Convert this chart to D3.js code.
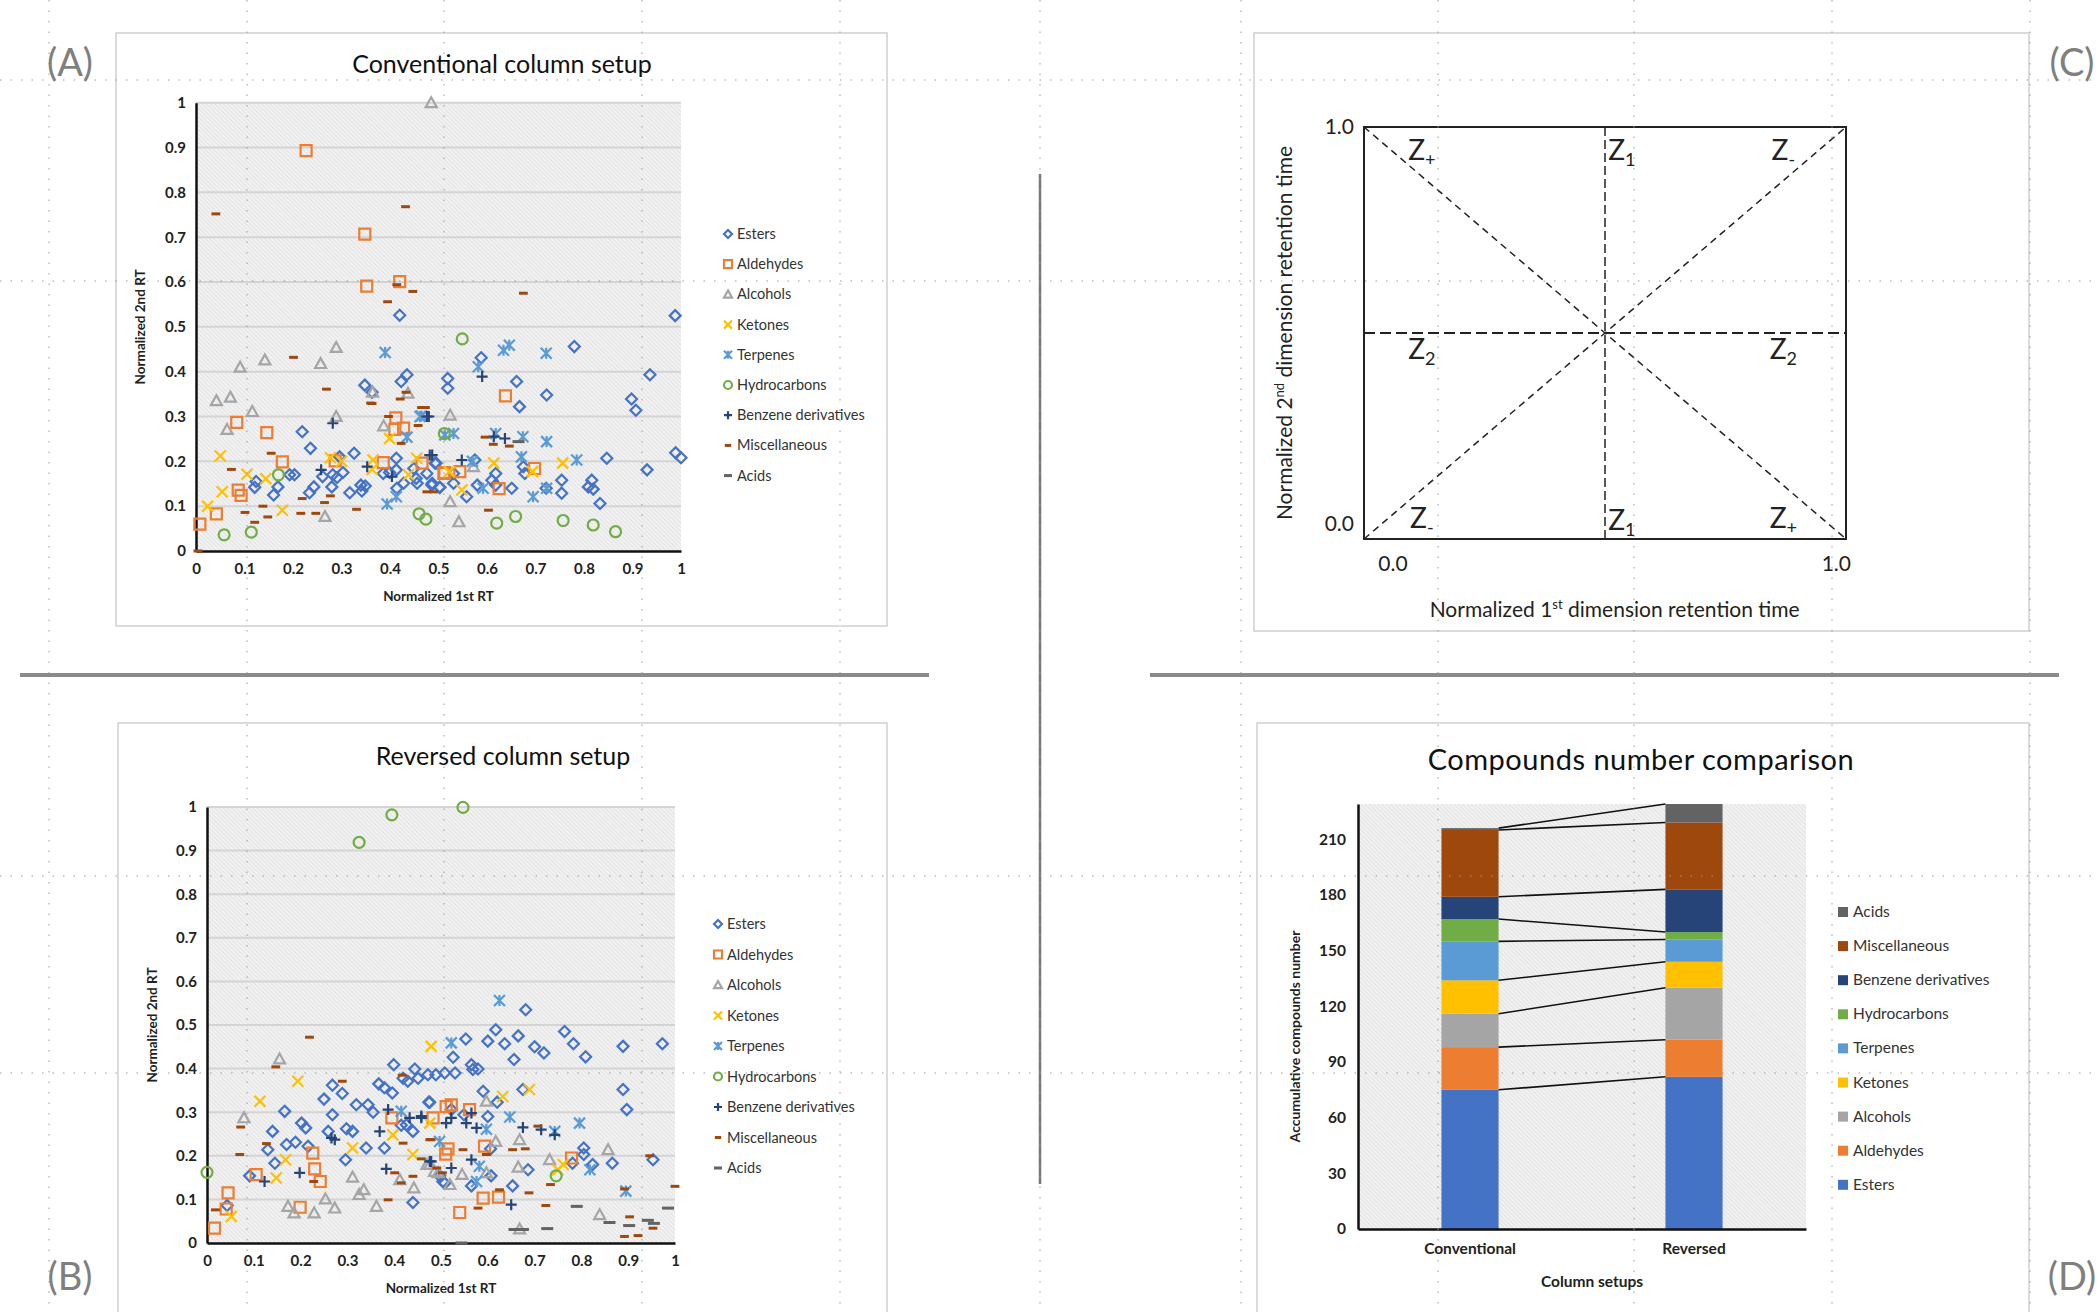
<!DOCTYPE html>
<html>
<head>
<meta charset="utf-8">
<script src="https://cdn.jsdelivr.net/npm/d3@7"></script>
<style>
  body { margin: 0; background: #fff; }
  text { font-family: Lato, "Open Sans", sans-serif; }
</style>
</head>
<body>
<svg id="fig" width="2097" height="1312"></svg>
<script>
// ---- shared categories ----
const classes = ['Esters', 'Aldehydes', 'Alcohols', 'Ketones', 'Terpenes', 'Hydrocarbons', 'Benzene derivatives', 'Miscellaneous', 'Acids'];
const colors = ['#4472C4', '#ED7D31', '#A5A5A5', '#FFC000', '#5B9BD5', '#70AD47', '#264478', '#9E480E', '#636363'];
const shapes = ['diamond', 'square', 'triangle', 'x', 'star', 'circle', 'plus', 'dash', 'longdash'];
const rtTicks = [0, 0.1, 0.2, 0.3, 0.4, 0.5, 0.6, 0.7, 0.8, 0.9, 1];

// ---- (A) conventional column setup: [1st RT, 2nd RT] ----
const convEsters = [[0.42,0.526],[0.348,0.37],[0.363,0.354],[0.423,0.378],[0.435,0.393],[0.219,0.266],[0.236,0.229],[0.124,0.155],[0.121,0.142],[0.169,0.143],[0.16,0.125],[0.193,0.17],[0.203,0.17],[0.243,0.143],[0.234,0.13],[0.261,0.166],[0.28,0.143],[0.282,0.17],[0.296,0.21],[0.303,0.175],[0.291,0.164],[0.326,0.218],[0.317,0.13],[0.34,0.147],[0.349,0.145],[0.342,0.134],[0.386,0.173],[0.399,0.175],[0.413,0.207],[0.413,0.181],[0.414,0.14],[0.428,0.151],[0.449,0.184],[0.454,0.162],[0.456,0.151],[0.476,0.173],[0.495,0.196],[0.487,0.151],[0.502,0.142],[0.519,0.385],[0.519,0.363],[0.588,0.431],[0.661,0.378],[0.667,0.322],[0.723,0.348],[0.78,0.456],[0.936,0.393],[0.898,0.339],[0.907,0.314],[0.988,0.525],[0.989,0.219],[1.0,0.208],[0.93,0.181],[0.847,0.207],[0.833,0.106],[0.816,0.158],[0.809,0.143],[0.819,0.138],[0.754,0.158],[0.754,0.129],[0.722,0.14],[0.678,0.173],[0.675,0.188],[0.651,0.14],[0.618,0.173],[0.618,0.147],[0.61,0.158],[0.58,0.147],[0.558,0.121],[0.531,0.173],[0.575,0.203],[0.493,0.196],[0.486,0.147],[0.503,0.142],[0.531,0.151]];
const convAldehydes = [[0.227,0.893],[0.348,0.707],[0.352,0.591],[0.42,0.601],[0.084,0.287],[0.146,0.264],[0.178,0.199],[0.087,0.136],[0.093,0.124],[0.042,0.083],[0.008,0.06],[0.287,0.201],[0.386,0.197],[0.412,0.297],[0.41,0.271],[0.428,0.274],[0.466,0.196],[0.513,0.175],[0.638,0.346],[0.511,0.173],[0.544,0.177],[0.625,0.139],[0.698,0.184]];
const convAlcohols = [[0.485,1.0],[0.289,0.454],[0.142,0.426],[0.091,0.41],[0.257,0.418],[0.042,0.335],[0.071,0.343],[0.116,0.311],[0.064,0.271],[0.289,0.3],[0.364,0.354],[0.437,0.352],[0.387,0.279],[0.266,0.077],[0.524,0.303],[0.524,0.11],[0.542,0.065],[0.572,0.188]];
const convKetones = [[0.05,0.212],[0.024,0.1],[0.054,0.132],[0.105,0.171],[0.144,0.161],[0.178,0.091],[0.277,0.208],[0.365,0.203],[0.363,0.182],[0.399,0.251],[0.438,0.17],[0.455,0.207],[0.522,0.177],[0.548,0.136],[0.614,0.196],[0.694,0.177],[0.756,0.196],[0.3,0.2]];
const convTerpenes = [[0.39,0.443],[0.394,0.105],[0.413,0.121],[0.435,0.254],[0.462,0.3],[0.582,0.411],[0.634,0.448],[0.646,0.459],[0.722,0.441],[0.465,0.301],[0.531,0.262],[0.513,0.259],[0.618,0.262],[0.674,0.255],[0.723,0.244],[0.671,0.21],[0.785,0.203],[0.592,0.14],[0.723,0.14],[0.695,0.121],[0.57,0.2]];
const convHydrocarbons = [[0.058,0.036],[0.114,0.042],[0.17,0.17],[0.46,0.083],[0.474,0.071],[0.512,0.262],[0.549,0.473],[0.62,0.062],[0.659,0.077],[0.757,0.068],[0.819,0.058],[0.865,0.043]];
const convBenzene = [[0.282,0.285],[0.258,0.181],[0.353,0.188],[0.404,0.166],[0.48,0.3],[0.487,0.214],[0.59,0.389],[0.476,0.3],[0.482,0.214],[0.548,0.203],[0.614,0.255],[0.637,0.251]];
const convMisc = [[0.041,0.752],[0.432,0.768],[0.414,0.594],[0.447,0.579],[0.395,0.556],[0.201,0.432],[0.269,0.361],[0.363,0.329],[0.421,0.339],[0.433,0.354],[0.473,0.32],[0.458,0.28],[0.397,0.3],[0.423,0.24],[0.155,0.218],[0.073,0.182],[0.219,0.117],[0.277,0.123],[0.265,0.108],[0.138,0.1],[0.101,0.086],[0.148,0.076],[0.121,0.064],[0.216,0.084],[0.247,0.084],[0.331,0.093],[0.476,0.132],[0.004,0.0],[0.675,0.575],[0.465,0.32],[0.596,0.254],[0.613,0.238],[0.646,0.234],[0.603,0.091],[0.49,0.132],[0.36,0.33]];
const convAcids = [[0.665,0.244]];

// ---- (B) reversed column setup ----
const revEsters = [[0.043,0.086],[0.091,0.154],[0.166,0.302],[0.14,0.256],[0.13,0.214],[0.145,0.183],[0.17,0.226],[0.189,0.231],[0.202,0.275],[0.211,0.264],[0.216,0.222],[0.268,0.362],[0.289,0.343],[0.268,0.294],[0.259,0.256],[0.298,0.262],[0.311,0.256],[0.296,0.191],[0.319,0.317],[0.344,0.317],[0.34,0.218],[0.367,0.365],[0.379,0.356],[0.396,0.344],[0.399,0.409],[0.419,0.378],[0.429,0.371],[0.444,0.399],[0.451,0.378],[0.426,0.271],[0.44,0.256],[0.379,0.218],[0.44,0.093],[0.474,0.323],[0.489,0.386],[0.508,0.39],[0.504,0.141],[0.472,0.386],[0.526,0.426],[0.553,0.468],[0.565,0.409],[0.579,0.399],[0.568,0.398],[0.59,0.348],[0.6,0.463],[0.617,0.489],[0.636,0.457],[0.656,0.421],[0.665,0.475],[0.681,0.535],[0.7,0.45],[0.72,0.436],[0.764,0.485],[0.783,0.457],[0.809,0.427],[0.889,0.451],[0.973,0.457],[0.889,0.352],[0.897,0.306],[0.953,0.191],[0.866,0.183],[0.824,0.18],[0.805,0.218],[0.805,0.203],[0.781,0.183],[0.686,0.168],[0.675,0.352],[0.62,0.323],[0.6,0.29],[0.549,0.294],[0.522,0.306],[0.606,0.216],[0.607,0.154],[0.653,0.131],[0.565,0.131],[0.508,0.137],[0.497,0.154],[0.476,0.323],[0.53,0.39],[0.415,0.27],[0.355,0.3],[0.25,0.33]];
const revAldehydes = [[0.016,0.034],[0.045,0.115],[0.041,0.078],[0.105,0.157],[0.199,0.082],[0.226,0.206],[0.23,0.17],[0.242,0.141],[0.395,0.287],[0.483,0.287],[0.511,0.313],[0.51,0.204],[0.522,0.317],[0.561,0.306],[0.515,0.216],[0.593,0.222],[0.54,0.07],[0.59,0.103],[0.623,0.105],[0.779,0.195]];
const revAlcohols = [[0.079,0.287],[0.155,0.422],[0.311,0.151],[0.335,0.122],[0.325,0.111],[0.173,0.084],[0.186,0.069],[0.229,0.069],[0.253,0.101],[0.273,0.08],[0.362,0.084],[0.412,0.145],[0.442,0.126],[0.47,0.18],[0.486,0.164],[0.476,0.18],[0.494,0.161],[0.519,0.134],[0.545,0.157],[0.597,0.325],[0.617,0.233],[0.597,0.161],[0.668,0.237],[0.665,0.174],[0.732,0.191],[0.857,0.214],[0.839,0.065],[0.668,0.032]];
const revKetones = [[0.052,0.061],[0.113,0.325],[0.194,0.371],[0.168,0.191],[0.148,0.149],[0.311,0.218],[0.397,0.248],[0.44,0.203],[0.479,0.451],[0.476,0.275],[0.632,0.336],[0.689,0.352],[0.761,0.18],[0.75,0.168]];
const revTerpenes = [[0.415,0.302],[0.497,0.233],[0.625,0.556],[0.522,0.459],[0.597,0.261],[0.647,0.289],[0.582,0.176],[0.576,0.141],[0.743,0.256],[0.796,0.275],[0.818,0.168],[0.895,0.119]];
const revHydrocarbons = [[0.395,0.982],[0.325,0.919],[0.0,0.162],[0.547,0.999],[0.746,0.154]];
const revBenzene = [[0.123,0.141],[0.198,0.161],[0.383,0.17],[0.369,0.256],[0.387,0.306],[0.266,0.241],[0.273,0.237],[0.433,0.287],[0.458,0.287],[0.479,0.187],[0.511,0.275],[0.458,0.291],[0.522,0.287],[0.476,0.187],[0.522,0.172],[0.554,0.275],[0.576,0.264],[0.565,0.298],[0.565,0.191],[0.65,0.088],[0.675,0.265],[0.714,0.26],[0.743,0.248]];
const revMisc = [[0.018,0.076],[0.072,0.266],[0.07,0.203],[0.127,0.228],[0.147,0.404],[0.219,0.472],[0.289,0.371],[0.228,0.141],[0.387,0.099],[0.401,0.161],[0.419,0.229],[0.415,0.138],[0.44,0.153],[0.476,0.237],[0.491,0.172],[0.503,0.161],[0.417,0.385],[0.479,0.237],[0.458,0.193],[0.547,0.214],[0.597,0.203],[0.625,0.122],[0.579,0.08],[0.653,0.214],[0.68,0.216],[0.707,0.268],[0.688,0.115],[0.724,0.086],[0.734,0.134],[0.946,0.2],[1.0,0.13],[0.892,0.124],[0.903,0.06],[0.892,0.015],[0.921,0.017],[0.953,0.034]];
const revAcids = [[0.544,0.0],[0.657,0.031],[0.675,0.031],[0.727,0.033],[0.79,0.084],[0.86,0.047],[0.902,0.04],[0.942,0.052],[0.955,0.045],[0.985,0.08]];

const convSeries = [convEsters, convAldehydes, convAlcohols, convKetones, convTerpenes, convHydrocarbons, convBenzene, convMisc, convAcids];
const revSeries = [revEsters, revAldehydes, revAlcohols, revKetones, revTerpenes, revHydrocarbons, revBenzene, revMisc, revAcids];

// ---- (C) zone scheme ----
const zoneLabels = [
  { z: '+', x: 0.12, y: 0.945 }, { z: '1', x: 0.535, y: 0.945 }, { z: '-', x: 0.87, y: 0.945 },
  { z: '2', x: 0.12, y: 0.46 }, { z: '2', x: 0.87, y: 0.46 },
  { z: '-', x: 0.12, y: 0.05 }, { z: '1', x: 0.535, y: 0.045 }, { z: '+', x: 0.87, y: 0.05 }
];

// ---- (D) compound counts ----
const setups = ['Conventional', 'Reversed'];
const convCounts = [75, 23, 18, 18, 21, 12, 12, 36, 1];
const revCounts = [82, 20, 28, 14, 12, 4, 23, 36, 10];
const countTicks = [0, 30, 60, 90, 120, 150, 180, 210];

const svg = d3.select('#fig');
svg.append('rect').attr('width', 2097).attr('height', 1312).attr('fill', '#fff');

const defs = svg.append('defs');
const pat = defs.append('pattern').attr('id', 'hatch').attr('patternUnits', 'userSpaceOnUse')
  .attr('width', 3).attr('height', 3).attr('patternTransform', 'rotate(-45)');
pat.append('rect').attr('width', 3).attr('height', 3).attr('fill', '#f2f2f2');
pat.append('line').attr('x1', 0).attr('y1', 0).attr('x2', 0).attr('y2', 3).attr('stroke', '#d2d2d2').attr('stroke-width', 1);

// marker path centred on 0,0
function markerPath(shape, s) {
  const h = s / 2;
  switch (shape) {
    case 'diamond': return `M0,${-h}L${h},0L0,${h}L${-h},0Z`;
    case 'square': return `M${-h},${-h}H${h}V${h}H${-h}Z`;
    case 'triangle': return `M0,${-h}L${h},${h * 0.8}L${-h},${h * 0.8}Z`;
    case 'circle': return `M${h},0A${h},${h} 0 1,1 ${-h},0A${h},${h} 0 1,1 ${h},0Z`;
    case 'x': return `M${-h},${-h}L${h},${h}M${-h},${h}L${h},${-h}`;
    case 'star': return `M${-h},${-h}L${h},${h}M${-h},${h}L${h},${-h}M0,${-h}V${h}`;
    case 'plus': return `M${-h},0H${h}M0,${-h}V${h}`;
    case 'dash': return `M${-h * 0.8},0H${h * 0.8}`;
    case 'longdash': return `M${-h},0H${h}`;
  }
}
function markerStroke(shape) {
  return (shape === 'dash' || shape === 'longdash') ? 3 : 2.2;
}

function scatterPanel(o) {
  const g = svg.append('g');
  const x = d3.scaleLinear().domain([0, 1]).range([o.left, o.right]);
  const y = d3.scaleLinear().domain([0, 1]).range([o.bottom, o.top]);

  g.append('rect').attr('x', o.left).attr('y', o.top)
    .attr('width', o.right - o.left).attr('height', o.bottom - o.top).attr('fill', 'url(#hatch)');

  g.selectAll('.grid').data(rtTicks.slice(1)).join('line')
    .attr('x1', o.left).attr('x2', o.right)
    .attr('y1', d => y(d)).attr('y2', d => y(d))
    .attr('stroke', '#d4d4d4').attr('stroke-width', 2);

  const fmt = d => (d === 0 || d === 1) ? String(d) : d.toFixed(1);
  const ax = g.append('g').attr('transform', `translate(0,${o.bottom})`)
    .call(d3.axisBottom(x).tickValues(rtTicks).tickSize(0).tickPadding(12).tickFormat(fmt));
  const ay = g.append('g').attr('transform', `translate(${o.left},0)`)
    .call(d3.axisLeft(y).tickValues(rtTicks).tickSize(0).tickPadding(10).tickFormat(fmt));
  [ax, ay].forEach(a => {
    a.select('.domain').attr('stroke', '#111').attr('stroke-width', 2.5);
    a.selectAll('text').attr('font-size', 15).attr('font-weight', 'bold').attr('fill', '#222')
      .style('font-family', 'Lato, sans-serif');
  });

  g.append('text').attr('x', (o.left + o.right) / 2).attr('y', o.bottom + 50)
    .attr('text-anchor', 'middle').attr('font-size', 13.5).attr('font-weight', 'bold').attr('fill', '#222')
    .text('Normalized 1st RT');
  g.append('text').attr('transform', `translate(${o.ylabX},${(o.top + o.bottom) / 2}) rotate(-90)`)
    .attr('text-anchor', 'middle').attr('font-size', 13.5).attr('font-weight', 'bold').attr('fill', '#222')
    .text('Normalized 2nd RT');

  g.append('text').attr('x', o.titleX).attr('y', o.titleY).attr('text-anchor', 'middle')
    .attr('font-size', 25).attr('fill', '#111').text(o.title);

  o.series.forEach((pts, i) => {
    g.append('g').selectAll('path').data(pts).join('path')
      .attr('transform', d => `translate(${x(d[0])},${y(d[1])})`)
      .attr('d', markerPath(shapes[i], shapes[i] === 'longdash' ? 12 : 11))
      .attr('fill', 'none').attr('stroke', colors[i]).attr('stroke-width', markerStroke(shapes[i]));
  });

  const leg = g.append('g');
  classes.forEach((c, i) => {
    const ly = o.legY + i * o.legStep;
    leg.append('path').attr('transform', `translate(${o.legX},${ly})`)
      .attr('d', markerPath(shapes[i], 8)).attr('fill', 'none')
      .attr('stroke', colors[i]).attr('stroke-width', markerStroke(shapes[i]));
    leg.append('text').attr('x', o.legX + 9).attr('y', ly + 5).attr('font-size', 14.5)
      .attr('fill', '#333').text(c);
  });
}

// panel frames
const frames = [[116, 33, 771, 593], [118, 723, 769, 600], [1254, 33, 775, 598], [1257, 723, 772, 600]];
svg.selectAll('.frame').data(frames).join('rect')
  .attr('x', d => d[0]).attr('y', d => d[1]).attr('width', d => d[2]).attr('height', d => d[3])
  .attr('fill', '#fff').attr('stroke', '#d0d0d0').attr('stroke-width', 1.5);

scatterPanel({
  series: convSeries, title: 'Conventional column setup', titleX: 502, titleY: 73,
  left: 196, right: 681, top: 102.7, bottom: 551, ylabX: 145,
  legX: 728, legY: 234, legStep: 30.2
});
scatterPanel({
  series: revSeries, title: 'Reversed column setup', titleX: 503, titleY: 765,
  left: 207, right: 675, top: 807, bottom: 1243, ylabX: 157,
  legX: 718, legY: 924, legStep: 30.5
});

// ---- (C) ----
(function () {
  const g = svg.append('g');
  const x = d3.scaleLinear().domain([0, 1]).range([1364, 1846]);
  const y = d3.scaleLinear().domain([0, 1]).range([539, 127]);
  const line = d3.line().x(d => x(d[0])).y(d => y(d[1]));
  g.append('path').attr('d', line([[0, 0], [1, 1]])).attr('stroke', '#222').attr('stroke-width', 1.5).attr('stroke-dasharray', '7,5').attr('fill', 'none');
  g.append('path').attr('d', line([[0, 1], [1, 0]])).attr('stroke', '#222').attr('stroke-width', 1.5).attr('stroke-dasharray', '7,5').attr('fill', 'none');
  g.append('path').attr('d', line([[0.5, 0], [0.5, 1]])).attr('stroke', '#222').attr('stroke-width', 1.5).attr('stroke-dasharray', '9,4').attr('fill', 'none');
  g.append('path').attr('d', line([[0, 0.5], [1, 0.5]])).attr('stroke', '#222').attr('stroke-width', 2).attr('stroke-dasharray', '11,5').attr('fill', 'none');
  g.append('rect').attr('x', x(0)).attr('y', y(1)).attr('width', x(1) - x(0)).attr('height', y(0) - y(1))
    .attr('fill', 'none').attr('stroke', '#222').attr('stroke-width', 2);

  const t = (tx, ty, s, anchor) => g.append('text').attr('x', tx).attr('y', ty)
    .attr('text-anchor', anchor || 'middle').attr('font-size', 21).attr('fill', '#222').text(s);
  t(x(0) - 10, y(1) + 7, '1.0', 'end');
  t(x(0) - 10, y(0) - 8, '0.0', 'end');
  t(x(0.06), y(0) + 32, '0.0');
  t(x(0.98), y(0) + 32, '1.0');

  const xt = g.append('text').attr('x', x(0.52)).attr('y', y(0) + 78).attr('text-anchor', 'middle')
    .attr('font-size', 21).attr('fill', '#222');
  xt.append('tspan').text('Normalized 1');
  xt.append('tspan').attr('dy', -8).attr('font-size', 13).text('st');
  xt.append('tspan').attr('dy', 8).text(' dimension retention time');

  const yt = g.append('text').attr('transform', `translate(1292,${y(0.5)}) rotate(-90)`)
    .attr('text-anchor', 'middle').attr('font-size', 21).attr('fill', '#222');
  yt.append('tspan').text('Normalized 2');
  yt.append('tspan').attr('dy', -8).attr('font-size', 13).text('nd');
  yt.append('tspan').attr('dy', 8).text(' dimension retention time');

  zoneLabels.forEach(z => {
    const zt = g.append('text').attr('x', x(z.x)).attr('y', y(z.y) + 10).attr('text-anchor', 'middle')
      .attr('font-size', 28).attr('fill', '#222');
    zt.append('tspan').text('Z');
    zt.append('tspan').attr('dy', 6).attr('font-size', 18).text(z.z);
  });
})();

// ---- (D) ----
(function () {
  const g = svg.append('g');
  const left = 1358, right = 1806, top = 804, bottom = 1229;
  const x = d3.scaleBand().domain(setups).range([left, right]);
  const y = d3.scaleLinear().domain([0, 229]).range([bottom, top]);
  const barW = x.bandwidth() * 0.255;

  g.append('rect').attr('x', left).attr('y', top).attr('width', right - left).attr('height', bottom - top)
    .attr('fill', 'url(#hatch)');

  const stacks = [convCounts, revCounts].map(c => {
    let acc = 0;
    return c.map((v, i) => { const s = [acc, acc + v, i]; acc += v; return s; });
  });

  stacks.forEach((st, k) => {
    const cx = x(setups[k]) + x.bandwidth() / 2;
    g.append('g').selectAll('rect').data(st).join('rect')
      .attr('x', cx - barW / 2).attr('width', barW)
      .attr('y', d => y(d[1])).attr('height', d => y(d[0]) - y(d[1]))
      .attr('fill', d => colors[d[2]]);
  });

  // connector lines between segment tops
  const cx0 = x(setups[0]) + x.bandwidth() / 2 + barW / 2;
  const cx1 = x(setups[1]) + x.bandwidth() / 2 - barW / 2;
  g.append('g').selectAll('line').data(classes.map((c, i) => [stacks[0][i][1], stacks[1][i][1]])).join('line')
    .attr('x1', cx0).attr('x2', cx1).attr('y1', d => y(d[0])).attr('y2', d => y(d[1]))
    .attr('stroke', '#111').attr('stroke-width', 1.6);

  const ay = g.append('g').attr('transform', `translate(${left},0)`)
    .call(d3.axisLeft(y).tickValues(countTicks).tickSize(0).tickPadding(12));
  const ax = g.append('g').attr('transform', `translate(0,${bottom})`)
    .call(d3.axisBottom(x).tickSize(0).tickPadding(14));
  [ax, ay].forEach(a => {
    a.select('.domain').attr('stroke', '#111').attr('stroke-width', 2.5);
    a.selectAll('text').attr('font-size', 15.5).attr('font-weight', 'bold').attr('fill', '#222')
      .style('font-family', 'Lato, sans-serif');
  });

  g.append('text').attr('x', (left + right) / 2 + 10).attr('y', 1287).attr('text-anchor', 'middle')
    .attr('font-size', 15.5).attr('font-weight', 'bold').attr('fill', '#222').text('Column setups');
  g.append('text').attr('transform', `translate(1300,${(top + bottom) / 2 + 20}) rotate(-90)`)
    .attr('text-anchor', 'middle').attr('font-size', 14).attr('font-weight', 'bold').attr('fill', '#222')
    .text('Accumulative compounds number');
  g.append('text').attr('x', 1641).attr('y', 770).attr('text-anchor', 'middle')
    .attr('font-size', 29).attr('fill', '#111').attr('letter-spacing', 0.5).text('Compounds  number  comparison');

  const order = d3.range(classes.length).reverse();
  order.forEach((ci, r) => {
    const ly = 912 + r * 34.1;
    g.append('rect').attr('x', 1838).attr('y', ly - 5).attr('width', 10).attr('height', 10).attr('fill', colors[ci]);
    g.append('text').attr('x', 1853).attr('y', ly + 5).attr('font-size', 15.5).attr('fill', '#333').text(classes[ci]);
  });
})();

// ---- page furniture ----
svg.append('line').attr('x1', 1040).attr('x2', 1040).attr('y1', 174).attr('y2', 1184)
  .attr('stroke', '#777').attr('stroke-width', 2.5);
[[20, 929], [1150, 2059]].forEach(s => {
  svg.append('line').attr('x1', s[0]).attr('x2', s[1]).attr('y1', 675).attr('y2', 675)
    .attr('stroke', '#8a8a8a').attr('stroke-width', 4);
});

const guideX = [49, 247, 444, 642, 840, 1040, 1241, 1438, 1634, 1832, 2030];
const guideY = [80, 281, 876, 1073];
svg.append('g').selectAll('line').data(guideX).join('line')
  .attr('x1', d => d).attr('x2', d => d).attr('y1', 0).attr('y2', 1312)
  .attr('stroke', '#9a9a9a').attr('stroke-width', 1).attr('stroke-dasharray', '1.5,9');
svg.append('g').selectAll('line').data(guideY).join('line')
  .attr('x1', 0).attr('x2', 2097).attr('y1', d => d).attr('y2', d => d)
  .attr('stroke', '#9a9a9a').attr('stroke-width', 1).attr('stroke-dasharray', '1.5,9');

const panelTags = [['(A)', 70, 76], ['(C)', 2072, 76], ['(B)', 70, 1290], ['(D)', 2072, 1290]];
svg.selectAll('.tag').data(panelTags).join('text')
  .attr('x', d => d[1]).attr('y', d => d[2]).attr('text-anchor', 'middle')
  .attr('font-size', 38).attr('fill', '#7f7f7f').text(d => d[0]);
</script>
</body>
</html>
